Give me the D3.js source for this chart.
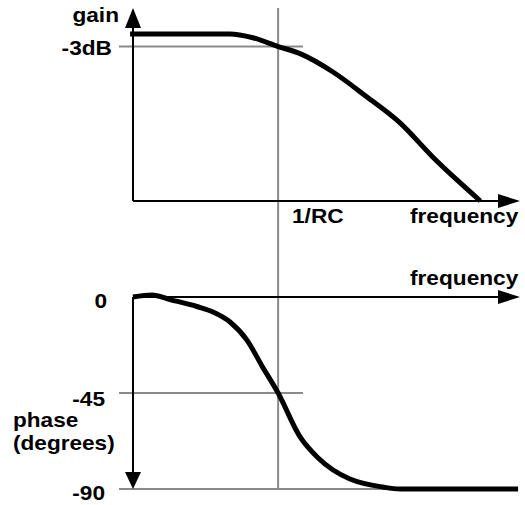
<!DOCTYPE html>
<html>
<head>
<meta charset="utf-8">
<script src="https://cdn.jsdelivr.net/npm/d3@7"></script>
<style>
  html, body { margin: 0; padding: 0; background: #fff; }
  svg { display: block; }
  text { font-family: "Liberation Sans", Arial, sans-serif; font-weight: bold; font-size: 21px; fill: #000; }
</style>
</head>
<body>
<svg id="chart" width="525" height="505"></svg>
<script>
// Frequency axis is log10(ω·RC): 0 is the corner frequency 1/RC.
const gainFreq = [-1.53, -0.5, -0.26, 0, 0.227, 0.567, 0.919, 1.26, 1.6, 1.86, 2.09];
const gainDb   = [0, 0, -0.9, -3, -4.7, -9.1, -15.1, -21.3, -29.5, -35.2, -40];

const phaseFreq = [-1.5, -1.304, -1.118, -0.839, -0.673, -0.497, -0.322, -0.167, 0, 0.227, 0.403, 0.568, 0.743, 1.084, 1.26, 2.48];
const phaseDeg  = [0, 0.94, -1.2, -4.45, -7.0, -11.7, -20.2, -32.3, -45, -65.6, -75, -81.1, -85.3, -89.1, -90, -90];

const gainTicks  = [{ v: -3, label: "-3dB" }];
const phaseTicks = [{ v: 0, label: "0" }, { v: -45, label: "-45" }, { v: -90, label: "-90" }];
const phaseTitle = ["phase", "(degrees)"];
const cornerFreq = 0;

const svg = d3.select("#chart");
const GRAY = "#8a8a8a";

const x = d3.scaleLinear().domain([-1.5, 2.5]).range([133, 520]);
const yGain = d3.scaleLinear().domain([-40, 0]).range([201, 34]);
const yPhase = d3.scaleLinear().domain([-90, 0]).range([489, 297]);

// stretched bold label helper
function label(txt, px, py, anchor) {
  return svg.append("text")
    .attr("transform", `translate(${px},${py}) scale(1.08,1)`)
    .attr("text-anchor", anchor || "start")
    .text(txt);
}

// reference lines
svg.append("line")
  .attr("x1", x(cornerFreq)).attr("x2", x(cornerFreq))
  .attr("y1", 8).attr("y2", yPhase(-90))
  .attr("stroke", GRAY).attr("stroke-width", 2);

gainTicks.forEach(t => {
  svg.append("line")
    .attr("x1", 119).attr("x2", 303)
    .attr("y1", yGain(t.v)).attr("y2", yGain(t.v))
    .attr("stroke", GRAY).attr("stroke-width", 2);
});
phaseTicks.filter(t => t.v !== 0).forEach(t => {
  svg.append("line")
    .attr("x1", 119).attr("x2", t.v === -90 ? 518 : 303)
    .attr("y1", yPhase(t.v)).attr("y2", yPhase(t.v))
    .attr("stroke", GRAY).attr("stroke-width", 2);
});

// axes with arrowheads
function arrow(tipX, tipY, dir) {
  let pts;
  if (dir === "up") pts = [[tipX, tipY], [tipX - 8, tipY + 20], [tipX + 8, tipY + 20]];
  else if (dir === "down") pts = [[tipX, tipY], [tipX - 8, tipY - 17], [tipX + 8, tipY - 17]];
  else pts = [[tipX, tipY], [tipX - 22, tipY - 7], [tipX - 22, tipY + 7]];
  svg.append("path").attr("d", "M" + pts.join("L") + "Z").attr("fill", "#000");
}

const x0 = x.range()[0];
svg.append("line").attr("x1", x0).attr("x2", x0).attr("y1", yGain(-40)).attr("y2", 24)
  .attr("stroke", "#000").attr("stroke-width", 2);
arrow(x0, 8, "up");
svg.append("line").attr("x1", x0).attr("x2", 505).attr("y1", yGain(-40)).attr("y2", yGain(-40))
  .attr("stroke", "#000").attr("stroke-width", 2);
arrow(520, yGain(-40), "right");

svg.append("line").attr("x1", x0).attr("x2", 505).attr("y1", yPhase(0)).attr("y2", yPhase(0))
  .attr("stroke", "#000").attr("stroke-width", 2);
arrow(520, yPhase(0), "right");
svg.append("line").attr("x1", x0).attr("x2", x0).attr("y1", yPhase(0)).attr("y2", 476)
  .attr("stroke", "#000").attr("stroke-width", 2);
arrow(x0, yPhase(-90), "down");

// curves
const gainLine = d3.line().x((d, i) => x(gainFreq[i])).y(d => yGain(d)).curve(d3.curveMonotoneX);
svg.append("path").attr("d", gainLine(gainDb))
  .attr("fill", "none").attr("stroke", "#000").attr("stroke-width", 5);

const phaseLine = d3.line().x((d, i) => x(phaseFreq[i])).y(d => yPhase(d)).curve(d3.curveMonotoneX);
svg.append("path").attr("d", phaseLine(phaseDeg))
  .attr("fill", "none").attr("stroke", "#000").attr("stroke-width", 5);

// labels
label("gain", 119, 22, "end");
gainTicks.forEach(t => label(t.label, 112, yGain(t.v) + 8, "end"));
label("1/RC", 292, 223);
label("frequency", 410, 223);
label("frequency", 410, 285);
phaseTicks.forEach(t => label(t.label, t.v === 0 ? 107 : 105, yPhase(t.v) + (t.v === 0 ? 11 : (t.v === -90 ? 11 : 13)), "end"));

// two-line phase axis title
phaseTitle.forEach((s, i) => {
  svg.append("text")
    .attr("transform", `translate(13,${427 + i * 23}) scale(1.13,1)`)
    .style("font-size", "20px")
    .text(s);
});
</script>
</body>
</html>
